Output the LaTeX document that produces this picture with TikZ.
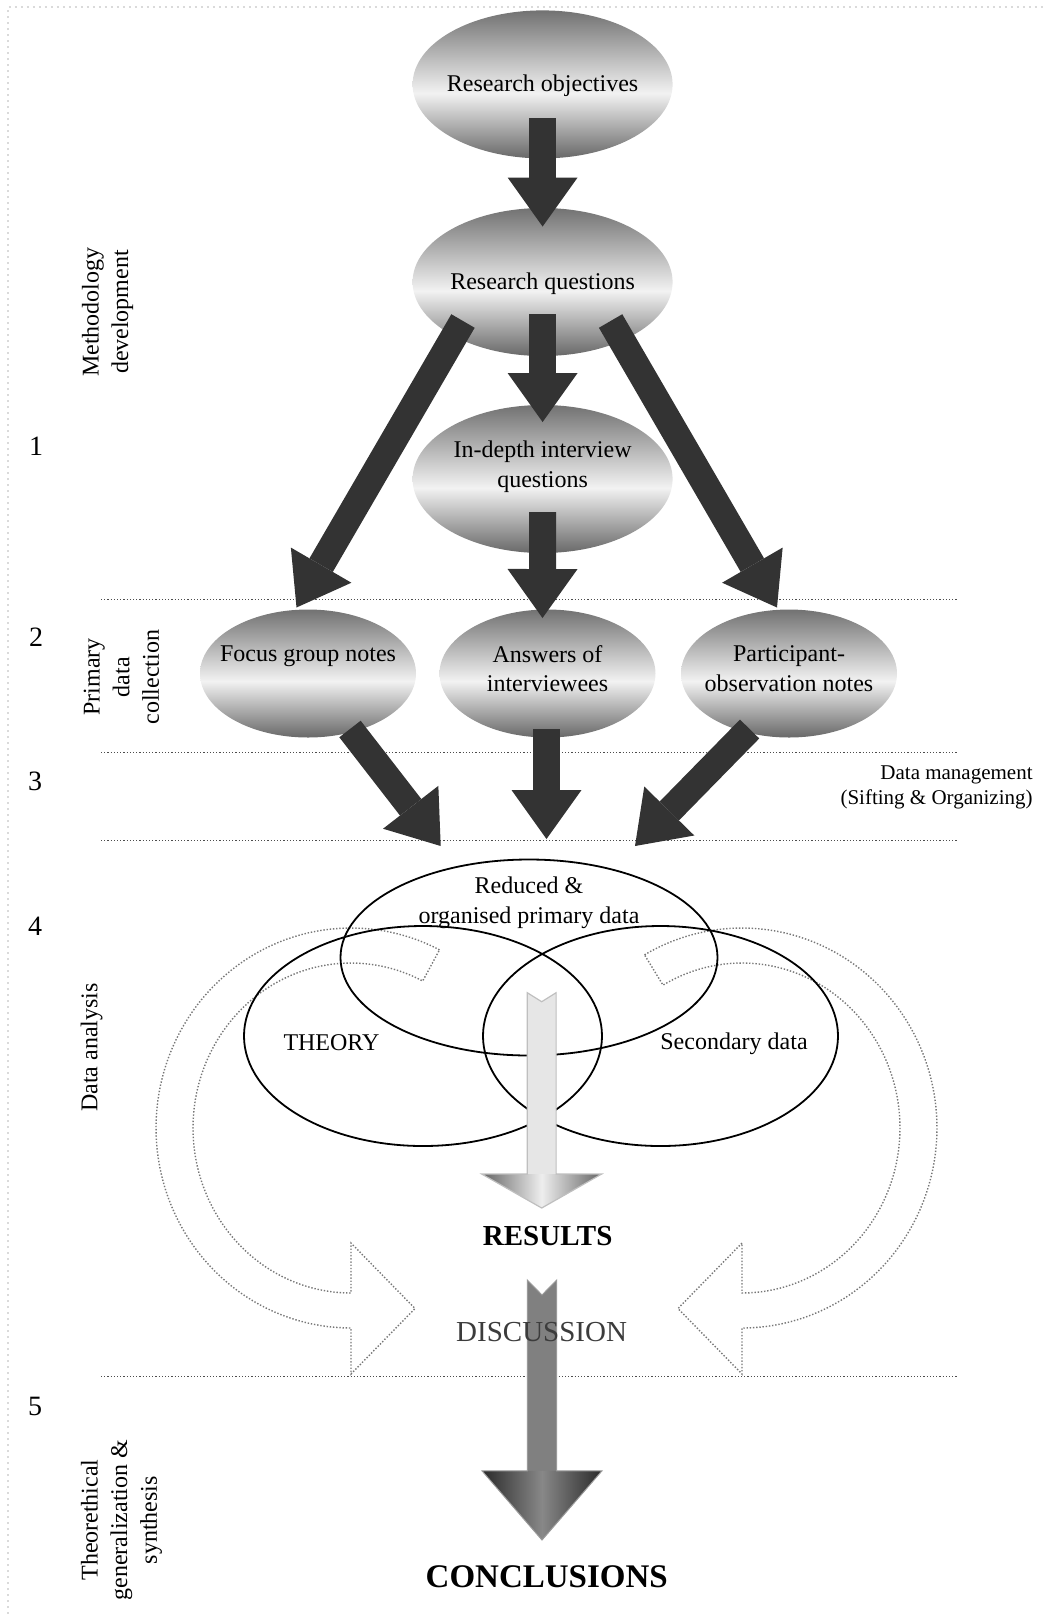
\documentclass[tikz,border=0pt]{standalone}
\usepackage{fontspec}
\setmainfont{Liberation Serif}
\usetikzlibrary{arrows.meta,shapes.geometric,calc}

\definecolor{arrowdark}{HTML}{333333}
\definecolor{ovaltop}{HTML}{727272}
\definecolor{ovallight}{HTML}{F2F2F2}
\definecolor{ovalbottom}{HTML}{686868}
\definecolor{rulegray}{HTML}{4D4D4D}
\definecolor{loopgray}{HTML}{777777}
\definecolor{framegray}{HTML}{DADADA}
\definecolor{discgray}{HTML}{3C3C3C}
\definecolor{resshaft}{HTML}{E6E6E6}
\definecolor{resedge}{HTML}{646464}
\definecolor{resmid}{HTML}{EEEEEE}
\definecolor{resrim}{HTML}{BFBFBF}
\definecolor{discshaft}{HTML}{808080}
\definecolor{discedge}{HTML}{2A2A2A}
\definecolor{discmid}{HTML}{888888}
\definecolor{discrim}{HTML}{9A9A9A}

% grey-white-grey vertical shading of the ovals
\pgfdeclareverticalshading{ovalshade}{100bp}{color(0bp)=(ovalbottom); color(25bp)=(ovalbottom); color(47bp)=(ovallight); color(75bp)=(ovaltop); color(100bp)=(ovaltop)}

% vertical block arrow with a notched tail and a shaded head
% #1 tail centre, #2 tip, #3 shaft half-width, #4 head half-width,
% #5 head length, #6 notch depth, #7 style family
\newcommand\notchedarrow[7]{%
  \path[#7 shaft] let \p1=(#1), \p2=(#2) in
    ({\x1-#3},\y1) -- (\x1,{\y1-#6}) -- ({\x1+#3},\y1) -- ({\x1+#3},{\y2+#5}) -- ({\x1-#3},{\y2+#5}) -- cycle;
  \path[#7 head] let \p1=(#1), \p2=(#2) in
    ({\x1-#4},{\y2+#5}) -- ({\x1+#4},{\y2+#5}) -- (\x2,\y2) -- cycle;
  \path[#7 rim] let \p1=(#1), \p2=(#2) in
    ({\x1-#3},\y1) -- (\x1,{\y1-#6}) -- ({\x1+#3},\y1) -- ({\x1+#3},{\y2+#5}) -- ({\x1+#4},{\y2+#5})
    -- (\x2,\y2) -- ({\x1-#4},{\y2+#5}) -- ({\x1-#3},{\y2+#5}) -- cycle;
}

\begin{document}
\begin{tikzpicture}[x=0.5pt, y=-0.5pt,
  font=\fontsize{12}{14.8}\selectfont,
  oval/.style={ellipse, shade, shading=ovalshade, inner sep=0pt, minimum width=130pt, minimum height=74pt},
  smalloval/.style={oval, minimum width=108pt, minimum height=64pt},
  venn/.style={ellipse, draw=black, line width=0.9pt, inner sep=0pt},
  fat/.style={draw=arrowdark, line width=13.5pt, -{Triangle[length=24.5pt, width=35pt, line width=0pt]}},
  rule/.style={draw=rulegray, line width=0.6pt, dash pattern=on 0.6pt off 1pt},
  loop/.style={draw=loopgray, line width=0.7pt, dash pattern=on 0.7pt off 0.9pt, line join=miter},
  framedots/.style={draw=framegray, line width=0.8pt, dash pattern=on 0.8pt off 2.2pt},
  lbl/.style={align=center, inner sep=0pt},
  side/.style={rotate=90, align=center, inner sep=0pt},
  num/.style={font=\fontsize{14}{17}\selectfont, inner sep=0pt},
  res shaft/.style={fill=resshaft},
  res head/.style={left color=resedge, right color=resedge, middle color=resmid},
  res rim/.style={draw=resrim, line width=0.6pt},
  disc shaft/.style={fill=discshaft},
  disc head/.style={left color=discedge, right color=discedge, middle color=discmid},
  disc rim/.style={draw=discrim, line width=0.5pt},
]
\useasboundingbox (0,0) rectangle (1043,1614);

% outer frame
\draw[framedots] (8,1614) -- (8,7) -- (1043,7);

% stage separators
\draw[rule] (101,599.2) -- (957.5,599.2);
\draw[rule] (101,752.6) -- (957.5,752.6);
\draw[rule] (101,840.2) -- (957.5,840.2);
\draw[rule] (101,1376.6) -- (957.5,1376.6);

% stage numbers and names
\node[num] (n1) at (36,446) {1};
\node[num] (n2) at (36,637.3) {2};
\node[num] (n3) at (35,781.5) {3};
\node[num] (n4) at (35,926.6) {4};
\node[num] (n5) at (35,1406.4) {5};
\node[side] (s1) at (107.6,312) {Methodology\\development};
\node[side] (s2) at (121.5,677) {Primary\\data\\collection};
\node[side] (s4) at (91.6,1047.6) {Data analysis};
\node[side] (s5) at (121.5,1520) {Theorethical\\generalization \&\\synthesis};
\node[align=right, anchor=east, inner sep=0pt, font=\fontsize{10.5}{12.4}\selectfont] (dm) at (1033,787.5) {Data management\\(Sifting \& Organizing)};

% feedback loops around the analysis
\draw[loop] plot[domain=63:270, samples=90] ({351+195*cos(\x)},{1128-200*sin(\x)})
  -- (351,1374) -- (415,1308.5) -- (351,1243) -- (351,1293)
  -- plot[domain=270:63, samples=90] ({351+158*cos(\x)},{1128-165*sin(\x)}) -- cycle;
\draw[loop] plot[domain=60:270, samples=90] ({742-195*cos(\x)},{1128-200*sin(\x)})
  -- (742,1374) -- (678,1308.5) -- (742,1243) -- (742,1293)
  -- plot[domain=270:60, samples=90] ({742-158*cos(\x)},{1128-165*sin(\x)}) -- cycle;

% methodology ovals
\node[oval] (ro) at (542.6,84.4) {};
\node[lbl] (ro-t) at ($(ro)+(0,1.5)$) {Research objectives};
\node[oval] (rq) at (542.6,282) {};
\node[lbl] (rq-t) at ($(rq)+(0,1.5)$) {Research questions};
\node[oval] (idq) at (542.6,479) {};
\node[lbl] (idq-t) at ($(idq)+(0,-12)$) {In-depth interview\\questions};

% primary data ovals
\node[smalloval] (fg) at (308,673.5) {};
\node[lbl] (fg-t) at ($(fg)+(0,-17.5)$) {Focus group notes};
\node[smalloval] (ans) at (547.5,673.5) {};
\node[lbl] (ans-t) at ($(ans)+(0,-5)$) {Answers of\\interviewees};
\node[smalloval] (po) at (789,673.5) {};
\node[lbl] (po-t) at ($(po)+(0,-5)$) {Participant-\\observation notes};

% analysis: three overlapping sets
\node[venn, minimum width=179pt, minimum height=110pt] (vth) at (423,1036) {};
\node[venn, minimum width=177.5pt, minimum height=110pt] (vsd) at (660.5,1036) {};
\node[venn, minimum width=188.5pt, minimum height=98pt] (vtop) at (529,957.5) {};
\node[lbl] (vtop-t) at ($(vtop)+(0,-55)$) {Reduced \&\\organised primary data};
\node[lbl] (vth-t) at ($(vth)+(-91.5,7)$) {THEORY};
\node[lbl] (vsd-t) at ($(vsd)+(73.5,8)$) {Secondary data};

% dark flow arrows
\draw[fat] ($(ro)+(0,33.6)$) -- ($(rq)+(0,-55.5)$);
\draw[fat] ($(rq)+(0,32)$) -- ($(idq)+(0,-57)$);
\draw[fat] ($(idq)+(0,33)$) -- ($(ans)+(-5,-55.5)$);
\draw[fat] ($(rq)+(-79.6,39)$) -- ($(fg)+(-11.5,-66)$);
\draw[fat] ($(rq)+(68,39)$) -- ($(po)+(-12,-66)$);
\draw[fat] ($(fg)+(42,55.5)$) -- ($(vtop)+(-88.3,-111.5)$);
\draw[fat] ($(ans)+(-1,55.5)$) -- ($(vtop)+(17.5,-118.5)$);
\draw[fat] ($(po)+(-39.4,55.5)$) -- ($(vtop)+(106,-111.5)$);

% results and conclusions
\node[lbl, font=\bfseries\fontsize{14.5}{17}\selectfont] (res) at (547.7,1236.5) {RESULTS};
\node[lbl, font=\bfseries\fontsize{16.5}{19}\selectfont] (conc) at (546.7,1576.3) {CONCLUSIONS};

\coordinate (ra-s) at ($(res)+(-6,-243.8)$);
\coordinate (ra-e) at ($(res)+(-6,-28.5)$);
\notchedarrow{ra-s}{ra-e}{7.2pt}{30pt}{17pt}{4.5pt}{res}

\coordinate (da-s) at ($(res)+(-5.7,43.5)$);
\coordinate (da-e) at ($(conc)+(-4.7,-36.3)$);
\notchedarrow{da-s}{da-e}{7.35pt}{30pt}{34.6pt}{7.5pt}{disc}

\node[lbl, text=discgray, font=\fontsize{14.5}{17}\selectfont] (disc) at (541.6,1332.5) {DISCUSSION};
\end{tikzpicture}
\end{document}
